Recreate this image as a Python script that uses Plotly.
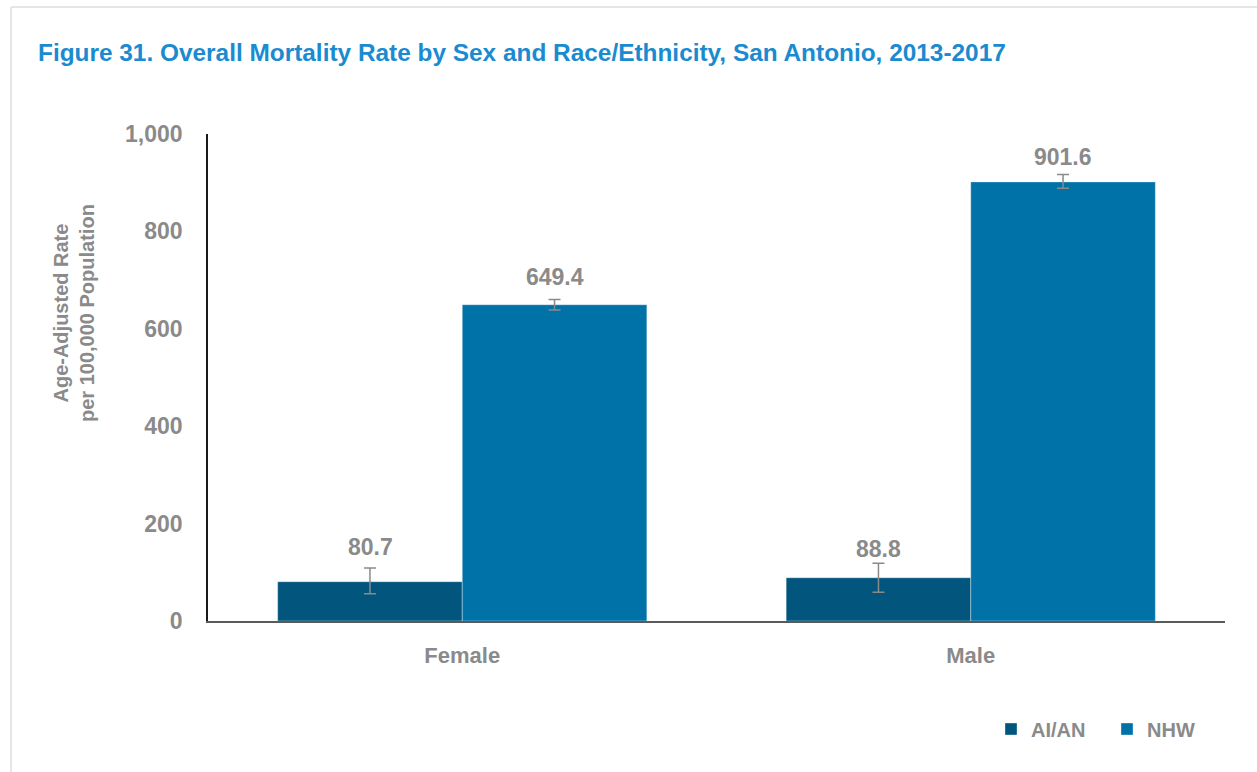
import plotly.graph_objects as go

categories = ["Female", "Male"]
aian_values = [80.7, 88.8]
aian_err_plus = [28, 30]
aian_err_minus = [25, 30]
nhw_values = [649.4, 901.6]
nhw_err_plus = [11, 15]
nhw_err_minus = [11, 13]
y_ticks = [0, 200, 400, 600, 800, 1000]
y_tick_labels = ["0", "200", "400", "600", "800", "1,000"]

FONT = "Liberation Sans, Arial, sans-serif"
GRAY = "#8a8a8a"
C_AIAN = "#02567D"
C_NHW = "#0072A8"

W, H = 1257, 772
L, R, T, B = 208, 1225, 134, 621

def px_x(px):
    return (px - L) / (R - L)

def px_y(py):
    return (B - py) / (B - T)

fig = go.Figure()
fig.add_trace(go.Bar(
    name="AI/AN", x=categories, y=aian_values,
    marker=dict(color=C_AIAN, line=dict(color="rgba(255,255,255,0.35)", width=1)),
    error_y=dict(type="data", array=aian_err_plus, arrayminus=aian_err_minus,
                 color=GRAY, thickness=1.5, width=6),
))
fig.add_trace(go.Bar(
    name="NHW", x=categories, y=nhw_values,
    marker=dict(color=C_NHW, line=dict(color="rgba(255,255,255,0.35)", width=1)),
    error_y=dict(type="data", array=nhw_err_plus, arrayminus=nhw_err_minus,
                 color=GRAY, thickness=1.5, width=6),
))

annotations = []
label_shift = {("Female", "AI/AN"): 6, ("Male", "AI/AN"): -1,
               ("Female", "NHW"): 7, ("Male", "NHW"): 3}
for i, cat in enumerate(categories):
    for name, vals, ep, off in (("AI/AN", aian_values, aian_err_plus, -0.5),
                                ("NHW", nhw_values, nhw_err_plus, 0.5)):
        annotations.append(dict(
            x=cat, y=vals[i] + ep[i], xref="x", yref="y",
            text=f"<b>{vals[i]:.1f}</b>", showarrow=False, yanchor="bottom",
            xshift=off * 184.5, yshift=label_shift[(cat, name)],
            font=dict(family=FONT, size=23, color=GRAY),
        ))

annotations.append(dict(
    x=px_x(74), y=px_y(313), xref="paper", yref="paper",
    text="<b>Age-Adjusted Rate<br>per 100,000 Population</b>", showarrow=False,
    textangle=-90, xanchor="center", yanchor="middle",
    font=dict(family=FONT, size=20, color=GRAY),
))

fig.update_layout(
    width=W, height=H,
    margin=dict(l=L, r=W - R, t=T, b=H - B, pad=0, autoexpand=False),
    paper_bgcolor="white", plot_bgcolor="white",
    barmode="group", bargap=0.274, bargroupgap=0,
    title=dict(
        text="<b>Figure 31. Overall Mortality Rate by Sex and Race/Ethnicity, San Antonio, 2013-2017</b>",
        x=38 / W, xanchor="left", xref="container",
        y=1 - 52 / H, yanchor="middle", yref="container",
        font=dict(family=FONT, size=24.4, color="#1A8BD0"),
    ),
    xaxis=dict(
        showline=True, linecolor="#5a5a5a", linewidth=2,
        ticks="", showgrid=False,
        tickfont=dict(family=FONT, size=22, color=GRAY, weight="bold"),
        ticklabelstandoff=14,
    ),
    yaxis=dict(
        range=[0, 1000], tickvals=y_ticks, ticktext=y_tick_labels,
        showline=True, linecolor="#1a1a1a", linewidth=1.5,
        ticks="", showgrid=False, zeroline=False,
        ticklabelstandoff=19,
        tickfont=dict(family=FONT, size=23, color=GRAY, weight="bold"),
    ),
    legend=dict(
        orientation="h", x=px_x(991), y=px_y(729), xanchor="left", yanchor="middle",
        font=dict(family=FONT, size=20, color=GRAY, weight="bold"),
        entrywidth=71, entrywidthmode="pixels", itemwidth=30,
        bgcolor="rgba(0,0,0,0)",
    ),
    annotations=annotations,
    shapes=[
        dict(type="line", xref="paper", yref="paper",
             x0=px_x(11), x1=px_x(W + 5), y0=px_y(7), y1=px_y(7),
             line=dict(color="#dedede", width=1.5)),
        dict(type="line", xref="paper", yref="paper",
             x0=px_x(11), x1=px_x(11), y0=px_y(7), y1=px_y(H + 5),
             line=dict(color="#dedede", width=1.5)),
    ],
    showlegend=True,
)

fig.write_html(
    "out.html",
    config={"displayModeBar": False},
    post_script="document.body.style.margin='0';document.body.style.overflow='hidden';",
)
